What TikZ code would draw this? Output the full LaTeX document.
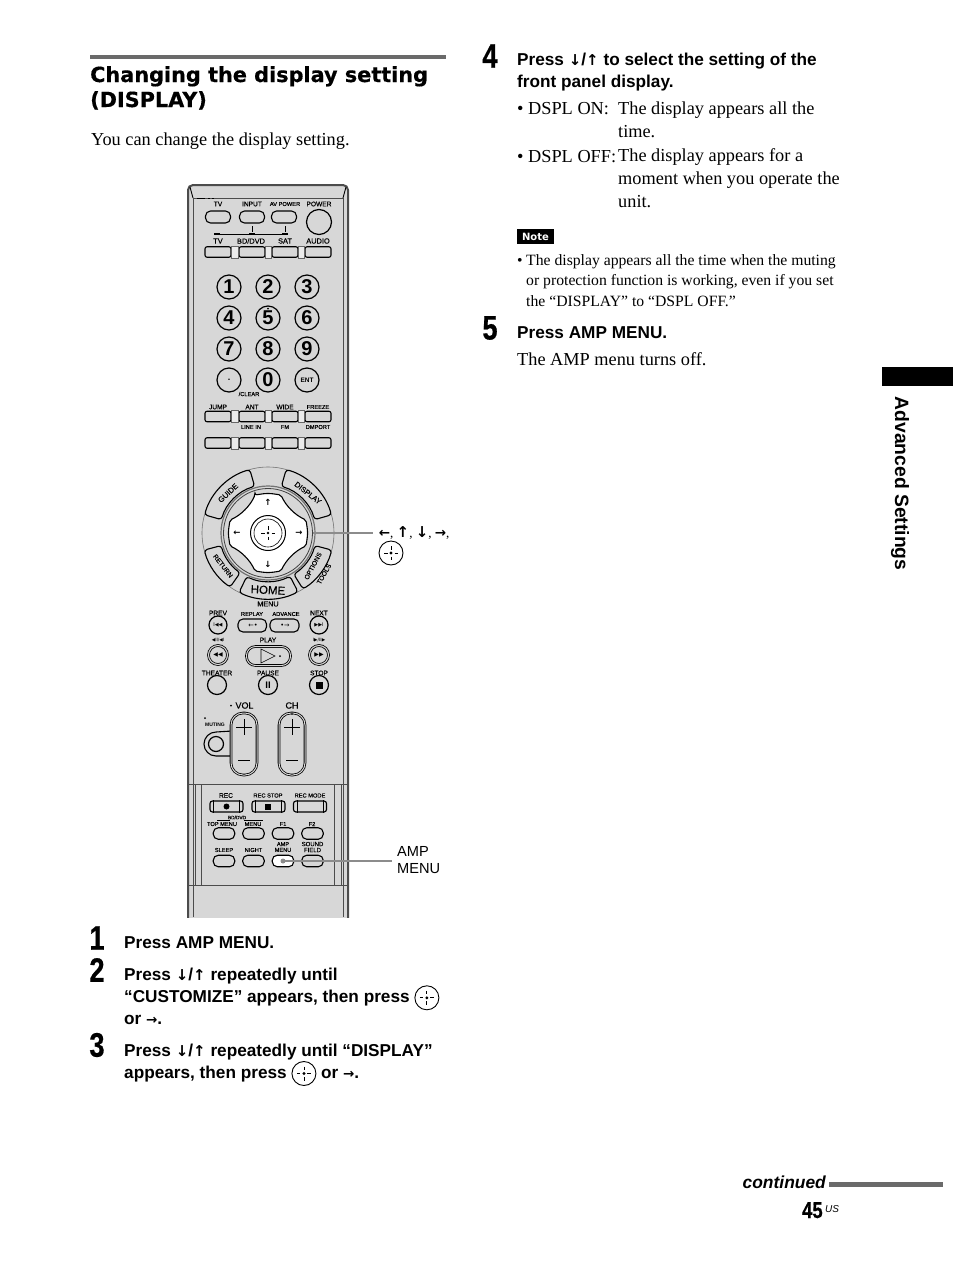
\documentclass[tikz,border=0pt]{standalone}
\usepackage{fontspec}
\setmainfont{Liberation Serif}
\setsansfont{Liberation Sans}
\newfontfamily\symfont{DejaVu Sans}
\newfontfamily\headfont[BoldFeatures={FakeBold=0.5}]{DejaVu Sans}
\newfontfamily\keyfont[FakeBold=0.3]{Liberation Sans}
\newfontfamily\stepfont[FakeStretch=0.8,BoldFeatures={FakeBold=0.6}]{Liberation Sans}
\usetikzlibrary{positioning,shapes.geometric,arrows.meta}

\definecolor{bodygray}{HTML}{D7D7D7}
\definecolor{rulegray}{HTML}{6A6A6A}
\definecolor{leadgray}{HTML}{8C8C8C}

\newcommand\entermark{\tikz[baseline={(0,-4.5pt)},x=1pt,y=1pt]{%
  \draw[line width=.9pt,fill=white] (0,0) circle (12pt);
  \fill (0,0) circle (1.6pt);
  \draw[line width=.8pt] (-7,0)--(-3.5,0) (3.5,0)--(7,0) (0,7)--(0,3.5) (0,-3.5)--(0,-7);}}
\newcommand\arwup{{\symfont\bfseries\fontsize{15}{15}\selectfont ↑}}
\newcommand\arwdown{{\symfont\bfseries\fontsize{15}{15}\selectfont ↓}}
\newcommand\arwleft{{\symfont\bfseries\fontsize{13.5}{14}\selectfont ←}}
\newcommand\arwright{{\symfont\bfseries\fontsize{13.5}{14}\selectfont →}}

\tikzset{
  bodytext/.style={anchor=base west,inner sep=0pt,align=left,font=\fontsize{18.3}{22.6}\selectfont},
  notetext/.style={anchor=base west,inner sep=0pt,align=left,font=\fontsize{15.7}{20.5}\selectfont},
  steptext/.style={anchor=base west,inner sep=0pt,align=left,font=\sffamily\bfseries\fontsize{17.2}{21.7}\selectfont},
  stepnum/.style={inner sep=0pt,font=\stepfont\bfseries\fontsize{34}{34}\selectfont},
  lbl/.style={inner sep=0pt,font=\keyfont\fontsize{6.6}{7}\selectfont},
  lblnarrow/.style={inner sep=0pt,font=\keyfont\fontsize{5.7}{6.4}\selectfont},
  keyoval/.style={draw,fill=bodygray,rounded corners=5pt,minimum width=25pt,minimum height=12pt,line width=1.1pt,inner sep=0pt},
  keyflat/.style={draw,fill=bodygray,rounded corners=2pt,minimum width=26pt,minimum height=10.5pt,line width=1.1pt,inner sep=0pt},
  strip/.style={draw=black!60,fill=black!8,line width=.5pt},
  roundkey/.style={draw,circle,fill=bodygray,minimum size=19pt,line width=1.2pt,inner sep=0pt},
  numkey/.style={roundkey,minimum size=24pt,font=\sffamily\bfseries\fontsize{20}{20}\selectfont},
  dblkey/.style={roundkey,double=bodygray,double distance=1.1pt,line width=.8pt,minimum size=18pt},
  segkey/.style={draw,fill=bodygray,line width=1.1pt,rounded corners=3pt},
  pillkey/.style={draw,fill=bodygray,double=bodygray,double distance=1pt,line width=.8pt,rounded corners=12pt,minimum width=26pt,minimum height=62pt,inner sep=0pt},
  leader/.style={draw=leadgray,line width=1.8pt},
  keymark/.style={inner sep=0pt,font=\symfont\fontsize{6.5}{7}\selectfont}
}

\begin{document}
\begin{tikzpicture}[x=1pt,y=-1pt]
  \useasboundingbox[fill=white] (0,0) rectangle (954,1288);

  % left column
  \fill[rulegray] (90,55) rectangle (446,59);
  \node[anchor=base west,inner sep=0pt,align=left,font=\headfont\bfseries\fontsize{20.8}{25}\selectfont] (title) at (90,107)
    {Changing the display setting\\(DISPLAY)};
  \node[bodytext] (intro) at (91,145) {You can change the display setting.};

  % remote body
  \draw[fill=bodygray,draw=black!70,line width=2pt,rounded corners=5pt] (188,920) -- (188,185) -- (348,185) -- (348,920);
  \draw[black!70,line width=.7pt] (193,917) -- (193,198) -- (343,198) -- (343,917);
  \draw[line width=.9pt] (190,187) -- (193,198) (346,187) -- (343,198);
  \draw[line width=1pt] (197,198) -- (205,198) (208,198) -- (210,198) (212,198) -- (214,198);
  \fill[white] (186,917.5) rectangle (350,925);
  \draw[black!70,line width=1pt] (188,784) -- (348,784) (188,885) -- (348,885);
  \draw[black!70,line width=.8pt] (195,784) -- (195,885) (201.5,784) -- (201.5,885) (334,784) -- (334,885) (341,784) -- (341,885);

  % top rows
  \foreach \lx/\lt in {218/TV,252/INPUT,319/POWER}
    \node[lbl] (top \lt) at (\lx,204) {\lt};
  \node[lblnarrow] (top avp) at (285,204) {AV POWER};
  \foreach \kx/\kn in {218/tvpow,252/input,284/avpow}
    \node[keyoval] (\kn) at (\kx,217) {};
  \node[roundkey,minimum size=25pt] (power) at (319,222) {};
  \draw[line width=.5pt] (217,234) -- (285,234);
  \draw[line width=2pt] (214,234) -- (220,234) (249,234) -- (255,234) (282,234) -- (288,234);
  \draw[line width=1pt] (252,226) -- (252,232) (285,226) -- (285,232);

  \foreach \lx/\lt in {218/TV,251/{BD/DVD},285/SAT,318/AUDIO}
    \node[lbl,font=\keyfont\fontsize{7.4}{8}\selectfont] (src \lt) at (\lx,241) {\lt};
  \foreach \kx/\kn in {218/tvsrc,252/bdsrc,285/satsrc,318/audsrc}
    \node[keyflat] (\kn) at (\kx,252) {};
  \foreach \ka/\kb in {tvsrc/bdsrc,bdsrc/satsrc,satsrc/audsrc}
    \draw[strip] (\ka.north east) rectangle (\kb.south west);

  % number keys
  \foreach \nx/\ny/\ng in {229/287/1,268/287/2,307/287/3,229/318/4,268/318/5,307/318/6,229/349/7,268/349/8,307/349/9,268/380/0}
    \node[numkey] (num\ng) at (\nx,\ny) {\ng};
  \node[numkey] (dotkey) at (229,380) {\fontsize{9}{9}\selectfont .};
  \node[numkey,font=\sffamily\bfseries\fontsize{6.5}{7}\selectfont] (entkey) at (307,380) {ENT};
  \node[lblnarrow] (clear) at (249,394) {/CLEAR};
  \fill (268,308.5) circle (1pt);

  % jump row and the row under it
  \foreach \lx/\lt in {218/JUMP,252/ANT,285/WIDE}
    \node[lbl] (row \lt) at (\lx,407) {\lt};
  \node[lblnarrow] (row freeze) at (318,407) {FREEZE};
  \foreach \kx/\kn in {218/jumpk,252/antk,285/widek,318/freezek}
    \node[keyflat] (\kn) at (\kx,416.5) {};
  \foreach \ka/\kb in {jumpk/antk,antk/widek,widek/freezek}
    \draw[strip] (\ka.north east) rectangle (\kb.south west);
  \node[lblnarrow] (linein) at (251,427) {LINE IN};
  \node[lblnarrow] (fmlbl) at (285,427) {FM};
  \node[lblnarrow] (dmport) at (318,427) {DMPORT};
  \foreach \kx/\kn in {218/lowa,252/lowb,285/lowc,318/lowd}
    \node[keyflat] (\kn) at (\kx,443) {};
  \foreach \ka/\kb in {lowa/lowb,lowb/lowc,lowc/lowd}
    \draw[strip] (\ka.north east) rectangle (\kb.south west);

  % dial
  \begin{scope}[shift={(268,533)},y=1pt]
    \draw[black!55,line width=.6pt] (0,0) circle (66);
    \foreach \sa/\sb in {106/164,16/74,195/235,244/297,302/345}
      \draw[segkey] (\sa:66) arc[start angle=\sa,end angle=\sb,radius=66] -- (\sb:48.5) arc[start angle=\sb,end angle=\sa,radius=48.5] -- cycle;
    \draw[black!55,line width=1.2pt] (0,0) circle (47);
    \draw[black!75,line width=.8pt,fill=bodygray] (0,0) circle (44.5);
    \draw[fill=white,line width=1.1pt,rounded corners=2pt] (-13,38) .. controls (0,40) .. (13,38)
      .. controls (18,27) and (27,18) .. (38,13) .. controls (40,0) .. (38,-13)
      .. controls (27,-18) and (18,-27) .. (13,-38) .. controls (0,-40) .. (-13,-38)
      .. controls (-18,-27) and (-27,-18) .. (-38,-13) .. controls (-40,0) .. (-38,13)
      .. controls (-27,18) and (-18,27) .. cycle;
    \node[draw,circle,fill=white,line width=1pt,minimum size=35pt,inner sep=0pt] (okouter) at (0,0) {};
    \node[draw,circle,fill=white,line width=.6pt,minimum size=28pt,inner sep=0pt] (okkey) at (0,0) {};
    \fill (0,0) circle (1.4pt);
    \draw[line width=.6pt] (-7,0)--(-3.5,0) (3.5,0)--(7,0) (0,7)--(0,3.5) (0,-3.5)--(0,-7);
    \node[keymark,font=\symfont\bfseries\fontsize{8.5}{9}\selectfont] (padup) at (0,31) {↑};
    \node[keymark,font=\symfont\bfseries\fontsize{8.5}{9}\selectfont] (paddown) at (0,-31) {↓};
    \node[keymark,font=\symfont\bfseries\fontsize{8.5}{9}\selectfont] (padleft) at (-31,0) {←};
    \node[keymark,font=\symfont\bfseries\fontsize{8.5}{9}\selectfont] (padright) at (31,0) {→};
    \coordinate (padedge) at (45,0);
    \node[lbl,font=\keyfont\fontsize{7.6}{8}\selectfont,rotate=43] (guide) at (-40,40) {GUIDE};
    \node[lbl,font=\keyfont\fontsize{7.6}{8}\selectfont,rotate=-38] (displaylbl) at (40,40) {DISPLAY};
    \node[lblnarrow,font=\keyfont\fontsize{6.6}{7}\selectfont,rotate=-52] (returnlbl) at (-45,-33) {RETURN};
    \node[lblnarrow,font=\keyfont\fontsize{6.6}{7}\selectfont,rotate=62] (optionslbl) at (45,-33) {OPTIONS};
    \node[lblnarrow,font=\keyfont\fontsize{6.6}{7}\selectfont,rotate=60] (toolslbl) at (56,-41) {TOOLS};
    \node[inner sep=0pt,font=\keyfont\fontsize{11.5}{12}\selectfont,rotate=-3] (homelbl) at (0,-57) {HOME};
    \node[lbl,font=\keyfont\fontsize{7.2}{8}\selectfont] (menulbl) at (0,-71) {MENU};
  \end{scope}
  \draw[leader] (padedge) -- (373,533) node[anchor=west,inner sep=0pt,font=\fontsize{13}{14}\selectfont,xshift=5pt] (navlabel)
    {\arwleft, \arwup, \arwdown, \arwright,};
  \node[inner sep=0pt] (naventer) at (391,553) {\entermark};

  % transport keys
  \foreach \lx/\ly/\lt in {218/613/PREV,319/613/NEXT,268/640/PLAY,217/673/THEATER,268/673/PAUSE,319/673/STOP}
    \node[lbl] (tr \lt) at (\lx,\ly) {\lt};
  \node[lblnarrow] (replay) at (252,614) {REPLAY};
  \node[lblnarrow] (advance) at (286,614) {ADVANCE};
  \node[keymark,font=\symfont\fontsize{4.5}{5}\selectfont] (slowback) at (218,640) {◀II/◀I};
  \node[keymark,font=\symfont\fontsize{4.5}{5}\selectfont] (slowfwd) at (319,640) {I▶/II▶};
  \node[roundkey,minimum size=18pt,font=\symfont\fontsize{5}{6}\selectfont] (prevkey) at (218,625) {I◀◀};
  \node[roundkey,minimum size=18pt,font=\symfont\fontsize{5}{6}\selectfont] (nextkey) at (319,625) {▶▶I};
  \draw[fill=bodygray,line width=1.1pt,rounded corners=5pt] (266.5,619) -- (238,619) -- (238,632) -- (266.5,632) -- cycle;
  \draw[fill=bodygray,line width=1.1pt,rounded corners=5pt] (270,619) -- (299,619) -- (299,632) -- (270,632) -- cycle;
  \node[keymark] (replaymark) at (253,625.5) {←•};
  \node[keymark] (advmark) at (285,625.5) {•→};
  \node[dblkey,minimum size=19pt,font=\symfont\fontsize{6}{7}\selectfont] (backkey) at (218,655) {◀◀};
  \node[dblkey,minimum size=19pt,font=\symfont\fontsize{6}{7}\selectfont] (fwdkey) at (319,655) {▶▶};
  \node[draw,fill=bodygray,double=bodygray,double distance=1pt,line width=.8pt,rounded corners=9pt,minimum width=44pt,minimum height=19pt,inner sep=0pt] (playkey) at (268.5,656) {};
  \draw[line width=.6pt] (261,649) -- (275,656) -- (261,663) -- cycle;
  \fill (280,656) circle (1pt);
  \node[roundkey] (theaterkey) at (217,685) {};
  \node[roundkey,font=\sffamily\bfseries\fontsize{9.5}{10}\selectfont] (pausekey) at (268,685) {II};
  \node[roundkey] (stopkey) at (319,685) {};
  \fill (315.5,681.5) rectangle (322.5,688.5);

  % volume and channel
  \draw[fill=bodygray,line width=1.1pt] (232,731) -- (216,732) arc[start angle=-90,end angle=-270,radius=12] -- (232,756);
  \node[roundkey,minimum size=15pt] (mutekey) at (216,744) {};
  \node[lblnarrow,font=\sffamily\bfseries\fontsize{5}{6}\selectfont] (mutelbl) at (215,724.5) {MUTING};
  \fill (205,718) circle (1pt);
  \node[pillkey] (volkey) at (244,744) {};
  \node[pillkey] (chkey) at (292,744) {};
  \foreach \px in {244,292}
    \draw[line width=1pt] (\px-8,727) -- (\px+8,727) (\px,719) -- (\px,735) (\px-6,760) -- (\px+6,760);
  \node[inner sep=0pt,font=\keyfont\fontsize{9}{10}\selectfont] (vollbl) at (244.5,705.5) {VOL};
  \fill (231,705.5) circle (1pt);
  \node[inner sep=0pt,font=\keyfont\fontsize{9}{10}\selectfont] (chlbl) at (292,705.5) {CH};
  \fill (292,714) circle (.9pt);

  % cover keys
  \foreach \lx/\lt in {226/REC}
    \node[lbl] (cv \lt) at (\lx,795.5) {\lt};
  \node[lblnarrow] (recstop) at (268,795.5) {REC STOP};
  \node[lblnarrow] (recmode) at (310,795.5) {REC MODE};
  \foreach \kx/\kn in {226.5/reckey,268.5/recstopkey,310/recmodekey}
    \node[keyoval,minimum width=33pt,minimum height=11pt,rounded corners=2.5pt] (\kn) at (\kx,806.5) {};
  \foreach \kn in {reckey,recstopkey,recmodekey}
    \draw[line width=.6pt] ([xshift=4pt]\kn.north west) -- ([xshift=4pt]\kn.south west) ([xshift=-4pt]\kn.north east) -- ([xshift=-4pt]\kn.south east);
  \fill (226.5,806.5) circle (3pt);
  \fill (264.5,803.5) rectangle (271,809.5);
  \node[lblnarrow,font=\keyfont\fontsize{4.8}{5}\selectfont] (bddvd) at (237,817.5) {BD/DVD};
  \draw[line width=.4pt] (217,820.5) -- (230,820.5) (244,820.5) -- (263,820.5);
  \node[lblnarrow] (topmenu) at (222,824) {TOP MENU};
  \node[lblnarrow] (menukey lbl) at (253,824) {MENU};
  \node[lblnarrow] (f1lbl) at (283,824) {F1};
  \node[lblnarrow] (f2lbl) at (312,824) {F2};
  \foreach \kx/\kn in {224/topk,253.5/menuk,283/f1k,312.5/f2k}
    \node[keyoval,minimum width=21.5pt,minimum height=11.5pt] (\kn) at (\kx,833.5) {};
  \node[lblnarrow] (sleeplbl) at (224,850) {SLEEP};
  \node[lblnarrow] (nightlbl) at (253.5,850) {NIGHT};
  \node[lblnarrow,align=center,font=\keyfont\fontsize{5.6}{5.8}\selectfont] (amplbl) at (283,847) {AMP\\MENU};
  \node[lblnarrow,align=center,font=\keyfont\fontsize{6}{6}\selectfont] (soundlbl) at (312.5,847) {SOUND\\FIELD};
  \foreach \kx/\kn in {224/sleepk,253.5/nightk,312.5/soundk}
    \node[keyoval,minimum width=21.5pt,minimum height=11.5pt] (\kn) at (\kx,861) {};
  \node[keyoval,fill=white,minimum width=21.5pt,minimum height=11.5pt] (ampkey) at (283,861) {};
  \fill[leadgray] (ampkey.center) circle (2.5pt);
  \node[anchor=base west,inner sep=0pt,align=left,font=\sffamily\fontsize{14.6}{17}\selectfont] (amplabel) at (397,873.5) {AMP\\MENU};
  \coordinate (ampend) at (392,861);
  \draw[leader] (ampkey.center) -- (ampend);

  % steps on the left
  \node[stepnum] (num one) at (97,938) {1};
  \node[steptext] (press one) at (124,948) {Press AMP MENU.};
  \node[stepnum] (num two) at (97,970) {2};
  \node[steptext] (press two) at (124,1024) {Press \arwdown/\arwup{} repeatedly until\\“CUSTOMIZE” appears, then press \entermark\\or \arwright.};
  \node[stepnum] (num three) at (97,1045) {3};
  \node[steptext] (press three) at (124,1078) {Press \arwdown/\arwup{} repeatedly until “DISPLAY”\\appears, then press \entermark{} or \arwright.};

  % steps on the right
  \node[stepnum] (num four) at (490,56) {4};
  \node[steptext] (press four) at (517,87) {Press \arwdown/\arwup{} to select the setting of the\\front panel display.};
  \node[bodytext] (dspl on) at (517,114) {\textbullet{} DSPL ON:};
  \node[bodytext] (dspl on text) at (618,137) {The display appears all the\\time.};
  \node[bodytext] (dspl off) at (517,162) {\textbullet{} DSPL OFF:};
  \node[bodytext] (dspl off text) at (618,207) {The display appears for a\\moment when you operate the\\unit.};
  \node[fill=black,text=white,inner sep=0pt,minimum width=37pt,minimum height=15pt,font=\symfont\bfseries\fontsize{10}{11}\selectfont] (note) at (535.5,236.5) {Note};
  \node[notetext] (note bullet) at (517,265) {\textbullet};
  \node[notetext] (note body) at (526,306) {The display appears all the time when the muting\\or protection function is working, even if you set\\the “DISPLAY” to “DSPL OFF.”};
  \node[stepnum] (num five) at (490,328) {5};
  \node[steptext] (press five) at (517,338) {Press AMP MENU.};
  \node[bodytext] (amp off) at (517,365) {The AMP menu turns off.};

  % margin and footer
  \fill[black] (882,367) rectangle (953,386);
  \node[rotate=-90,inner sep=0pt,font=\sffamily\bfseries\fontsize{19.3}{20}\selectfont] (sidetab) at (900,483.5) {Advanced Settings};
  \node[anchor=base east,inner sep=0pt,font=\sffamily\bfseries\itshape\fontsize{17.4}{18}\selectfont] (contd) at (826,1188) {continued};
  \fill[rulegray] (829,1182) rectangle (943,1187);
  \node[anchor=base west,inner sep=0pt,font=\stepfont\bfseries\fontsize{23}{23}\selectfont] (pagenum) at (802,1218) {45};
  \node[anchor=base west,inner sep=0pt,font=\sffamily\itshape\fontsize{10}{11}\selectfont] (pagesup) at (825,1212) {US};
\end{tikzpicture}
\end{document}
